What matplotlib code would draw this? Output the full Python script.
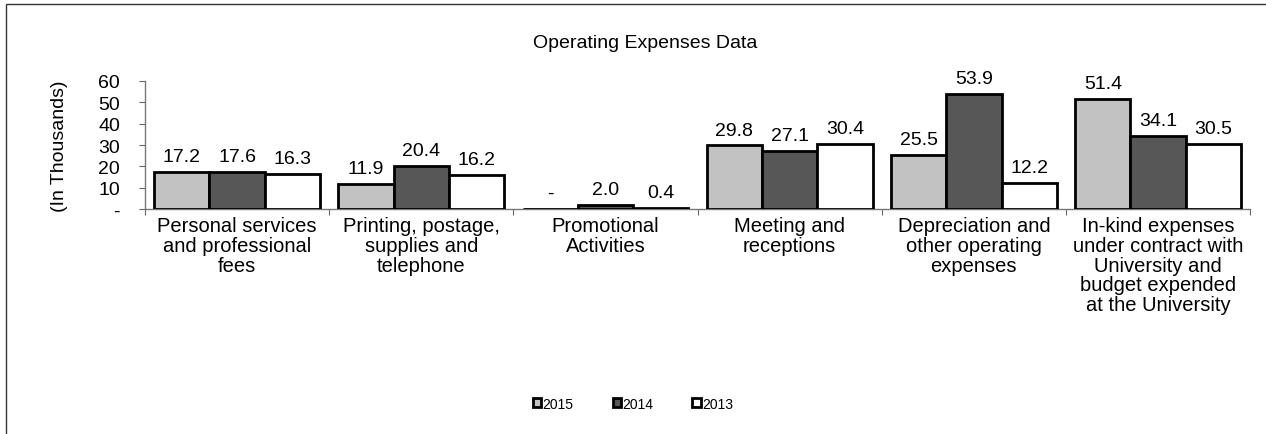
import numpy as np
import matplotlib.pyplot as plt
from matplotlib.patches import Rectangle

plt.rcParams['font.family'] = ['Liberation Sans', 'DejaVu Sans']

categories = ["Personal services\nand professional\nfees",
              "Printing, postage,\nsupplies and\ntelephone",
              "Promotional\nActivities",
              "Meeting and\nreceptions",
              "Depreciation and\nother operating\nexpenses",
              "In-kind expenses\nunder contract with\nUniversity and\nbudget expended\nat the University"]
years = ["2015", "2014", "2013"]
v2015 = [17.2, 11.9, 0.0, 29.8, 25.5, 51.4]
v2014 = [17.6, 20.4, 2.0, 27.1, 53.9, 34.1]
v2013 = [16.3, 16.2, 0.4, 30.4, 12.2, 30.5]
ytick_vals = [0, 10, 20, 30, 40, 50, 60]
ytick_labels = ["-", "10", "20", "30", "40", "50", "60"]

colors = ['#c2c2c2', '#575757', '#ffffff']

fig = plt.figure(figsize=(12.66, 4.35), dpi=100)
ax = fig.add_axes([0.1145, 0.517, 0.873, 0.2945])

x = np.arange(len(categories))
w = 0.3
for i, (vals, c) in enumerate(zip([v2015, v2014, v2013], colors)):
    pos = x + (i - 1) * w
    ax.bar(pos, vals, w, color=c, edgecolor='black', linewidth=2, label=years[i], zorder=3)
    for p, v in zip(pos, vals):
        txt = "-" if v == 0 else f"{v:.1f}"
        ax.annotate(txt, (p, v), xytext=(0, 5), textcoords='offset points',
                    ha='center', va='bottom', fontsize=14)

ax.set_xlim(-0.5, len(categories) - 0.5)
ax.set_ylim(0, 60)
ax.set_yticks(ytick_vals)
ax.set_yticklabels(ytick_labels, fontsize=14)
ax.set_xticks(np.arange(len(categories) + 1) - 0.5)
ax.set_xticklabels([])
ax.set_xticks(x, minor=True)
ax.set_xticklabels(categories, minor=True, fontsize=14.5, linespacing=1.05)
ax.tick_params(axis='x', which='minor', length=0, pad=5)
ax.tick_params(axis='x', which='major', length=4, color='#666666')
ax.tick_params(axis='y', length=4, color='#666666', pad=14)
for s in ['top', 'right']:
    ax.spines[s].set_visible(False)
for s in ['left', 'bottom']:
    ax.spines[s].set_color('#777777')
    ax.spines[s].set_linewidth(1)

ax.set_ylabel("(In Thousands)", fontsize=14, labelpad=22)
fig.text(0.51, 0.9, "Operating Expenses Data", ha='center', va='center', fontsize=14)

handles, labels = ax.get_legend_handles_labels()
fig.legend(handles, labels, loc='center', bbox_to_anchor=(0.5, 0.07), ncol=3,
           frameon=False, fontsize=10, handlelength=0.6, handleheight=0.6,
           handletextpad=0.1, columnspacing=2.8)

fig.patches.append(Rectangle((0.005, -0.01), 1.1, 0.998, transform=fig.transFigure,
                             fill=False, edgecolor='#333333', linewidth=1))

fig.savefig("out.png", dpi=100)
